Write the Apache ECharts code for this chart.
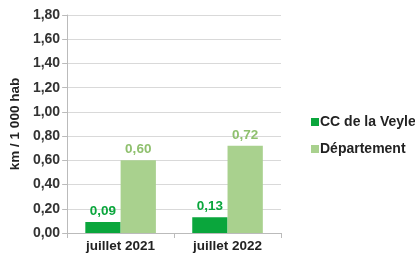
<!DOCTYPE html>
<html><head><meta charset="utf-8">
<script src="https://cdn.jsdelivr.net/npm/echarts@6/dist/echarts.min.js"></script>
<style>html,body{margin:0;padding:0;background:#fff}#c{width:415px;height:255px}</style>
</head><body><div id="c"></div>
<script>
var categories = ['juillet 2021', 'juillet 2022'];
var ccVeyle = [0.09, 0.13];
var departement = [0.60, 0.72];
var seriesNames = ['CC de la Veyle', 'Département'];
var yTicks = {min: 0, max: 1.8, interval: 0.2};

var fmt = function (v) { return Number(v).toFixed(2).replace('.', ','); };
var chart = echarts.init(document.getElementById('c'));
chart.setOption({
  animation: false,
  textStyle: {fontFamily: 'Liberation Sans, Arial, sans-serif'},
  grid: {left: 59, right: 134, top: 15, bottom: 22, containLabel: false},
  legend: {
    orient: 'vertical', left: 306, top: 110, itemWidth: 8, itemHeight: 8, itemGap: 13,
    icon: 'rect', itemStyle: {borderWidth: 0},
    textStyle: {fontSize: 14, fontWeight: 'bold', color: '#222', padding: [0, 0, 0, -4]},
    data: seriesNames
  },
  xAxis: {
    type: 'category', data: categories,
    axisLine: {lineStyle: {color: '#bbb'}},
    axisTick: {show: true, length: 5, lineStyle: {color: '#bbb'}},
    axisLabel: {fontSize: 13.5, fontWeight: 'bold', color: '#222', margin: 6}
  },
  yAxis: {
    type: 'value', min: yTicks.min, max: yTicks.max, interval: yTicks.interval,
    name: 'km / 1 000 hab', nameLocation: 'middle', nameGap: 37, nameRotate: 90,
    nameTextStyle: {fontSize: 13.5, fontWeight: 'bold', color: '#222'},
    axisLine: {show: true, lineStyle: {color: '#bbb'}},
    axisTick: {show: true, length: 5, lineStyle: {color: '#bbb'}},
    axisLabel: {fontSize: 14, fontWeight: 'bold', color: '#333', margin: 7, formatter: fmt},
    splitLine: {lineStyle: {color: '#d9d9d9'}}
  },
  series: [
    {name: seriesNames[0], type: 'bar', data: ccVeyle, barGap: '0%', barCategoryGap: '34%',
     itemStyle: {color: '#0aa63c'},
     label: {show: true, position: 'top', formatter: function (p) { return fmt(p.value); },
             fontSize: 13.5, fontWeight: 'bold', color: '#0aa63c', distance: 4}},
    {name: seriesNames[1], type: 'bar', data: departement, barGap: '0%', barCategoryGap: '34%',
     itemStyle: {color: '#a9d18e'},
     label: {show: true, position: 'top', formatter: function (p) { return fmt(p.value); },
             fontSize: 13.5, fontWeight: 'bold', color: '#8fc06e', distance: 4}}
  ]
});
</script></body></html>
